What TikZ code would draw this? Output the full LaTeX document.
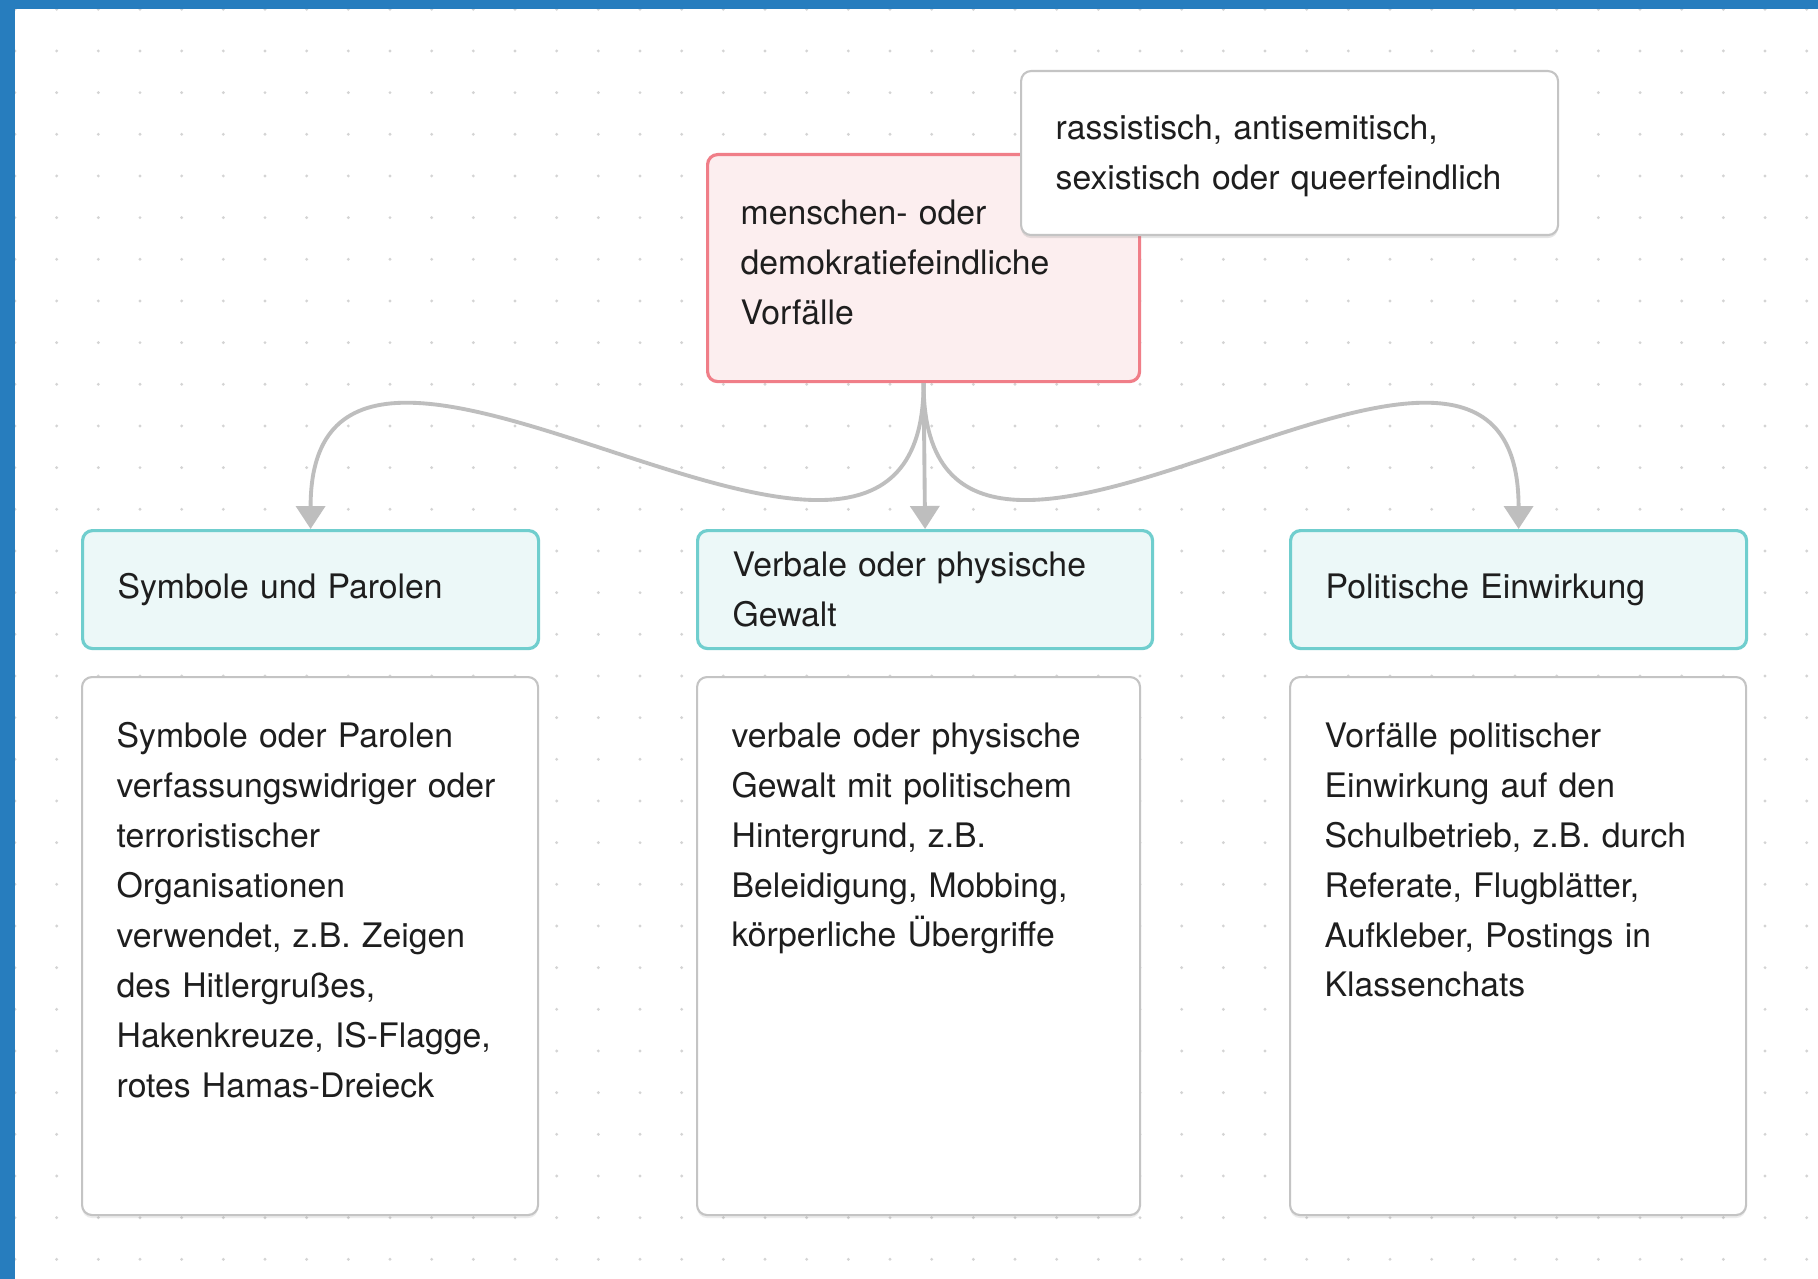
\documentclass[tikz,border=0pt]{standalone}
\usepackage{fontspec}
\setmainfont{TeX Gyre Heros}
\usetikzlibrary{arrows.meta,positioning,shadows}
\definecolor{randblau}{RGB}{39,125,190}
\definecolor{punkt}{RGB}{212,212,212}
\definecolor{rosa}{RGB}{240,126,136}
\definecolor{rosafill}{RGB}{252,238,239}
\definecolor{tuerkis}{RGB}{112,206,206}
\definecolor{tuerkisfill}{RGB}{236,248,248}
\definecolor{rahmen}{RGB}{196,196,196}
\definecolor{pfeilgrau}{RGB}{190,190,190}
\definecolor{schrift}{RGB}{30,30,30}

\begin{document}
\begin{tikzpicture}[
  txt/.style={font=\fontsize{9.6}{14.2}\selectfont, text=schrift, align=left},
  haupt/.style={draw=rosa, fill=rosafill, line width=0.9pt, rounded corners=0.1cm, anchor=north west, inner sep=0pt, minimum width=4.32cm, minimum height=2.27cm},
  notiz/.style={draw=rahmen, fill=white, line width=0.6pt, rounded corners=0.1cm, anchor=north west, inner sep=0pt, minimum width=5.37cm, minimum height=1.64cm, drop shadow={shadow xshift=0cm, shadow yshift=-0.03cm, opacity=0.2}},
  kat/.style={txt, draw=tuerkis, fill=tuerkisfill, line width=0.9pt, rounded corners=0.1cm, anchor=north west, inner xsep=0.35cm, inner ysep=0pt, minimum width=4.56cm, minimum height=1.18cm, text width=3.86cm},
  info/.style={draw=rahmen, fill=white, line width=0.6pt, rounded corners=0.1cm, anchor=north west, inner sep=0pt, minimum width=4.56cm, minimum height=5.38cm, drop shadow={shadow xshift=0cm, shadow yshift=-0.03cm, opacity=0.15}},
  infotext/.style={txt, anchor=north west, inner sep=0pt, text width=4.2cm},
  boxtext/.style={txt, anchor=west, inner sep=0pt, text width=4.8cm},
  pfeil/.style={draw=pfeilgrau, line width=1.1pt, -{Triangle[length=0.23cm,width=0.29cm]}}
]
\useasboundingbox (0,0) rectangle (18.18,-12.79);
\fill[white] (0,0) rectangle (18.18,-12.79);
\foreach \i in {0,...,43}
  \foreach \j in {0,...,30}
    \fill[punkt] ({0.15+0.41667*\i},{-0.093-0.41667*\j}) circle (0.016);
\fill[randblau] (0,0) rectangle (18.18,-0.09);
\fill[randblau] (0,0) rectangle (0.15,-12.79);

\node[haupt] (vorfall) at (7.06,-1.53) {};
\node[boxtext] (vorfall-text) at ([xshift=0.34cm,yshift=0.06cm]vorfall.west) {menschen- oder\\demokratiefeindliche\\Vorfälle};
\node[notiz] (merkmal) at (10.20,-0.70) {};
\node[boxtext] (merkmal-text) at ([xshift=0.35cm,yshift=-0.03cm]merkmal.west) {rassistisch, antisemitisch,\\sexistisch oder queerfeindlich};

\node[kat] (symbole) at (0.81,-5.29) {Symbole und Parolen};
\node[kat, minimum width=4.55cm, text width=3.85cm] (gewalt) at (6.96,-5.29) {Verbale oder physische\\Gewalt};
\node[kat] (politik) at (12.89,-5.29) {Politische Einwirkung};

\node[info] (symbole-info) at (0.81,-6.76) {};
\node[info, minimum width=4.43cm] (gewalt-info) at (6.96,-6.76) {};
\node[info] (politik-info) at (12.89,-6.76) {};

\node[infotext] (symbole-text) at ([xshift=0.35cm,yshift=-0.46cm]symbole-info.north west) {Symbole oder Parolen\\verfassungswidriger oder\\terroristischer\\Organisationen\\verwendet, z.B. Zeigen\\des Hitlergrußes,\\Hakenkreuze, IS-Flagge,\\rotes Hamas-Dreieck};
\node[infotext] (gewalt-text) at ([xshift=0.35cm,yshift=-0.46cm]gewalt-info.north west) {verbale oder physische\\Gewalt mit politischem\\Hintergrund, z.B.\\Beleidigung, Mobbing,\\körperliche Übergriffe};
\node[infotext] (politik-text) at ([xshift=0.35cm,yshift=-0.46cm]politik-info.north west) {Vorfälle politischer\\Einwirkung auf den\\Schulbetrieb, z.B. durch\\Referate, Flugblätter,\\Aufkleber, Postings in\\Klassenchats};

\draw[pfeil] (vorfall.south) .. controls +(0,-3.35) and +(0,3.35) .. (symbole.north);
\draw[pfeil] (vorfall.south) -- (gewalt.north);
\draw[pfeil] (vorfall.south) .. controls +(0,-3.35) and +(0,3.35) .. (politik.north);

\end{tikzpicture}
\end{document}
